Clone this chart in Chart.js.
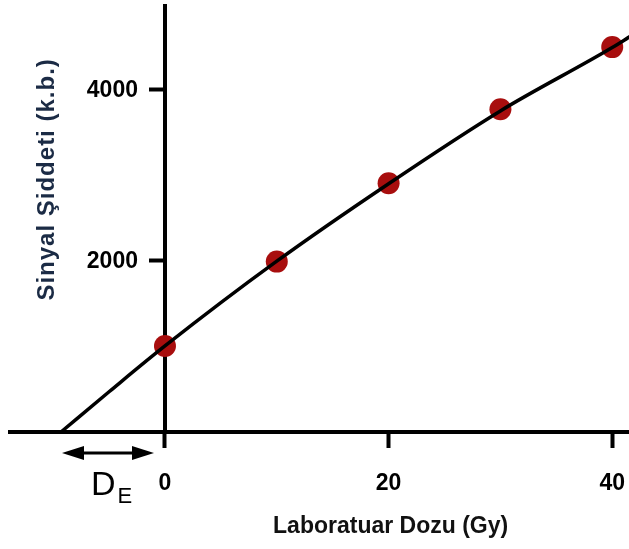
<!DOCTYPE html>
<html>
<head>
<meta charset="utf-8">
<script src="https://cdn.jsdelivr.net/npm/chart.js@4"></script>
<style>
  html, body { margin: 0; padding: 0; background: #fff; overflow: hidden; }
  canvas { display: block; }
</style>
</head>
<body>
<canvas id="chart" width="629" height="549"></canvas>
<script>
// measured points: laboratory dose (Gy) vs signal intensity (a.u.)
const doses = [0, 10, 20, 30, 40];
const signal = [1005, 1990, 2905, 3770, 4495];

// growth curve through the points, extrapolated back to zero signal
const fitDoses = [-9.3, -5, 0, 10, 20, 30, 40, 41.6];
const fitSignal = [0, 470, 1005, 1995, 2900, 3750, 4490, 4620];

const xTicks = [0, 20, 40];
const yTicks = [2000, 4000];

const xTitle = 'Laboratuar Dozu (Gy)';
const yTitle = 'Sinyal Şiddeti (k.b.)';

const FAMILY = '"Liberation Sans", Arial, sans-serif';

const toPoints = (xs, ys) => xs.map((v, i) => ({ x: v, y: ys[i] }));

const noPadding = s => {
  s.paddingLeft = 0; s.paddingRight = 0; s.paddingTop = 0; s.paddingBottom = 0;
};

// tick labels (the y axis sits at x = 0), axis titles and the D_E arrow
const annotations = {
  id: 'annotations',
  afterDraw(chart) {
    const { ctx, scales: { x, y } } = chart;
    const x0 = x.getPixelForValue(0);
    const y0 = y.getPixelForValue(0);
    ctx.save();

    ctx.fillStyle = '#000';
    ctx.font = 'bold 23px ' + FAMILY;
    ctx.textBaseline = 'middle';
    ctx.textAlign = 'right';
    y.ticks.forEach(t => {
      ctx.fillText(String(t.value), x0 - 27, y.getPixelForValue(t.value) + 1);
    });
    ctx.textAlign = 'center';
    x.ticks.forEach(t => {
      ctx.fillText(String(t.value), x.getPixelForValue(t.value), y0 + 52);
    });

    ctx.fillStyle = '#111';
    ctx.fillText(xTitle, x.getPixelForValue(20) + 2, y0 + 95);

    ctx.save();
    ctx.fillStyle = '#1b2b45';
    ctx.translate(x0 - 118, y.getPixelForValue(2950));
    ctx.rotate(-Math.PI / 2);
    ctx.font = 'bold 24px ' + FAMILY;
    ctx.letterSpacing = '1px';
    ctx.fillText(yTitle, 0, 0);
    ctx.restore();

    // double-headed arrow from the intercept to zero dose
    const xl = x.getPixelForValue(fitDoses[0]) + 1;
    const xr = x0 - 11;
    const ya = y0 + 21;
    const head = 22, half = 7;
    ctx.strokeStyle = '#000';
    ctx.fillStyle = '#000';
    ctx.lineWidth = 3;
    ctx.beginPath();
    ctx.moveTo(xl + head - 2, ya);
    ctx.lineTo(xr - head + 2, ya);
    ctx.stroke();
    ctx.beginPath();
    ctx.moveTo(xl, ya);
    ctx.lineTo(xl + head, ya - half);
    ctx.lineTo(xl + head, ya + half);
    ctx.closePath();
    ctx.fill();
    ctx.beginPath();
    ctx.moveTo(xr, ya);
    ctx.lineTo(xr - head, ya - half);
    ctx.lineTo(xr - head, ya + half);
    ctx.closePath();
    ctx.fill();

    ctx.textAlign = 'left';
    ctx.textBaseline = 'alphabetic';
    ctx.font = '34px "Liberation Sans Narrow", ' + FAMILY;
    ctx.fillText('D', xl + 29, y0 + 63);
    const dw = ctx.measureText('D').width;
    ctx.font = '22px "Liberation Sans Narrow", ' + FAMILY;
    ctx.fillText('E', xl + 29 + dw + 2, y0 + 71);

    ctx.restore();
  }
};

new Chart(document.getElementById('chart'), {
  data: {
    datasets: [
      {
        type: 'line',
        data: toPoints(fitDoses, fitSignal),
        borderColor: '#000',
        borderWidth: 3.5,
        pointRadius: 0,
        cubicInterpolationMode: 'monotone',
        fill: false,
        clip: false
      },
      {
        type: 'scatter',
        data: toPoints(doses, signal),
        backgroundColor: '#a80e0e',
        borderWidth: 0,
        pointRadius: 11,
        pointHoverRadius: 11
      }
    ]
  },
  options: {
    responsive: false,
    devicePixelRatio: 1,
    animation: false,
    layout: { autoPadding: false, padding: { left: 10, top: 6, right: 0, bottom: 0 } },
    plugins: {
      legend: { display: false },
      tooltip: { enabled: false }
    },
    scales: {
      x: {
        type: 'linear',
        position: 'bottom',
        min: -13.86,
        max: 41.5,
        afterBuildTicks: s => { s.ticks = xTicks.map(v => ({ value: v })); },
        afterFit: s => { s.height = 117; noPadding(s); },
        border: { color: '#000', width: 4 },
        grid: { drawOnChartArea: false, drawTicks: true, tickLength: 16, tickWidth: 4, tickColor: '#000' },
        ticks: { display: false }
      },
      y: {
        type: 'linear',
        position: { x: 0 },
        min: 0,
        max: 4975,
        afterBuildTicks: s => { s.ticks = yTicks.map(v => ({ value: v })); },
        afterFit: s => { s.width = 0; noPadding(s); },
        border: { color: '#000', width: 4 },
        grid: { drawOnChartArea: false, drawTicks: true, tickLength: 14, tickWidth: 4, tickColor: '#000' },
        ticks: { display: false }
      }
    }
  },
  plugins: [annotations]
});
</script>
</body>
</html>
